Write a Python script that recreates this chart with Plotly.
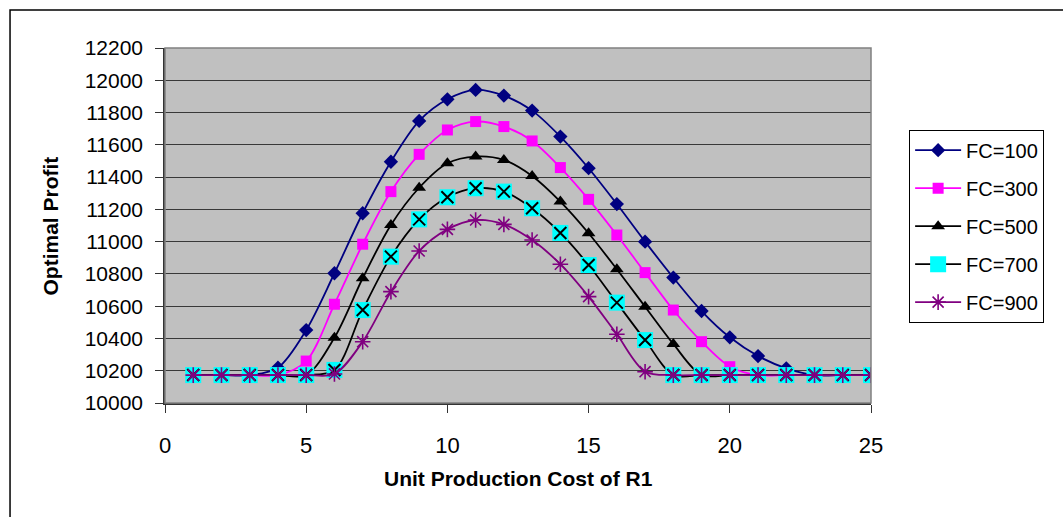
import plotly.graph_objects as go

# Unit production cost of R1
unit_cost = list(range(1, 26))

# Optimal profit for each fixed-cost level
profit_fc100 = [10173, 10173, 10173, 10219, 10452, 10804, 11176, 11495, 11748, 11882, 11940, 11905, 11812,
                11651, 11455, 11233, 11000, 10777, 10570, 10407, 10291, 10215, 10173, 10173, 10173]
profit_fc300 = [10173, 10173, 10173, 10173, 10260, 10612, 10984, 11310, 11541, 11692, 11744, 11713, 11624,
                11459, 11262, 11041, 10808, 10576, 10380, 10225, 10173, 10173, 10173, 10173, 10173]
profit_fc500 = [10173, 10173, 10173, 10173, 10173, 10405, 10773, 11103, 11334, 11486, 11527, 11506, 11407,
                11248, 11052, 10829, 10597, 10366, 10173, 10173, 10173, 10173, 10173, 10173, 10173]
profit_fc700 = [10173, 10173, 10173, 10173, 10173, 10205, 10576, 10907, 11138, 11275, 11331, 11310, 11207,
                11054, 10855, 10622, 10390, 10173, 10173, 10173, 10173, 10173, 10173, 10173, 10173]
profit_fc900 = [10173, 10173, 10173, 10173, 10173, 10180, 10380, 10690, 10942, 11076, 11134, 11107, 11010,
                10860, 10659, 10426, 10194, 10173, 10173, 10173, 10173, 10173, 10173, 10173, 10173]

series_names = ["FC=100", "FC=300", "FC=500", "FC=700", "FC=900"]

FONT = "Liberation Sans, Arial, sans-serif"

fig = go.Figure()

line_kw = dict(shape="spline", smoothing=0.9, width=1.8)

fig.add_trace(go.Scatter(
    x=unit_cost, y=profit_fc100, name=series_names[0], mode="lines+markers", legendgroup="g1",
    line=dict(color="#000080", **line_kw),
    marker=dict(symbol="diamond", size=11, color="#000080"),
))
fig.add_trace(go.Scatter(
    x=unit_cost, y=profit_fc300, name=series_names[1], mode="lines+markers", legendgroup="g2",
    line=dict(color="#FF00FF", **line_kw),
    marker=dict(symbol="square", size=11, color="#FF00FF"),
))
fig.add_trace(go.Scatter(
    x=unit_cost, y=profit_fc500, name=series_names[2], mode="lines+markers", legendgroup="g3",
    line=dict(color="#000000", **line_kw),
    marker=dict(symbol="triangle-up", size=12, color="#000000"),
))
fig.add_trace(go.Scatter(
    x=unit_cost, y=profit_fc700, name=series_names[3], mode="lines+markers", legendgroup="g4",
    line=dict(color="#000000", **line_kw),
    marker=dict(symbol="square", size=16, color="#00FFFF"),
))
# black cross drawn on top of the cyan squares
fig.add_trace(go.Scatter(
    x=unit_cost, y=profit_fc700, name=series_names[3], mode="markers", legendgroup="g4",
    showlegend=False,
    marker=dict(symbol="x-thin-open", size=12, color="#000000", line=dict(width=2, color="#000000")),
))
fig.add_trace(go.Scatter(
    x=unit_cost, y=profit_fc900, name=series_names[4], mode="lines+markers", legendgroup="g5",
    line=dict(color="#800080", **line_kw),
    marker=dict(symbol="asterisk-open", size=13, color="#800080", line=dict(width=1.6, color="#800080")),
))

fig.update_layout(
    width=1063, height=517,
    margin=dict(l=165, r=192, t=48, b=114),
    paper_bgcolor="white",
    plot_bgcolor="#C0C0C0",
    font=dict(family=FONT, color="black"),
    showlegend=True,
    legend=dict(
        x=1.054, y=0.77, xanchor="left", yanchor="top",
        bgcolor="white", bordercolor="black", borderwidth=1,
        font=dict(family=FONT, size=20, color="black"),
        tracegroupgap=9,
        itemwidth=46,
    ),
    xaxis=dict(
        range=[0, 25], tickmode="linear", tick0=0, dtick=5,
        showgrid=False, zeroline=False,
        showline=True, linecolor="#333333", linewidth=1.5,
        ticks="outside", ticklen=8, tickcolor="#333333",
        tickfont=dict(family=FONT, size=22, color="black"),
        ticklabelstandoff=14,
    ),
    yaxis=dict(
        range=[10000, 12200], tickmode="linear", tick0=10000, dtick=200,
        tickformat="d",
        showgrid=True, gridcolor="#383838", gridwidth=1,
        zeroline=False,
        showline=True, linecolor="#333333", linewidth=1.5,
        ticks="outside", ticklen=8, tickcolor="#333333",
        tickfont=dict(family=FONT, size=21, color="black"),
        ticklabelstandoff=8,
    ),
    annotations=[
        dict(text="<b>Unit Production Cost of R1</b>", xref="paper", yref="paper",
             x=0.5, y=-0.214, xanchor="center", yanchor="middle", showarrow=False,
             font=dict(family=FONT, size=21, color="black")),
        dict(text="<b>Optimal Profit</b>", xref="paper", yref="paper",
             x=-0.1615, y=0.5, xanchor="center", yanchor="middle", showarrow=False,
             textangle=-90, font=dict(family=FONT, size=21, color="black")),
    ],
    shapes=[
        # plot-area frame (top and right edges)
        dict(type="rect", xref="paper", yref="paper", x0=0, y0=0, x1=1, y1=1,
             line=dict(color="#808080", width=1.5), layer="above"),
        # outer chart border
        dict(type="rect", xref="paper", yref="paper", x0=-0.2195, y0=-0.5, x1=1.5, y1=1.107,
             line=dict(color="black", width=1.5), layer="below"),
    ],
)

fig.write_html("out.html")
